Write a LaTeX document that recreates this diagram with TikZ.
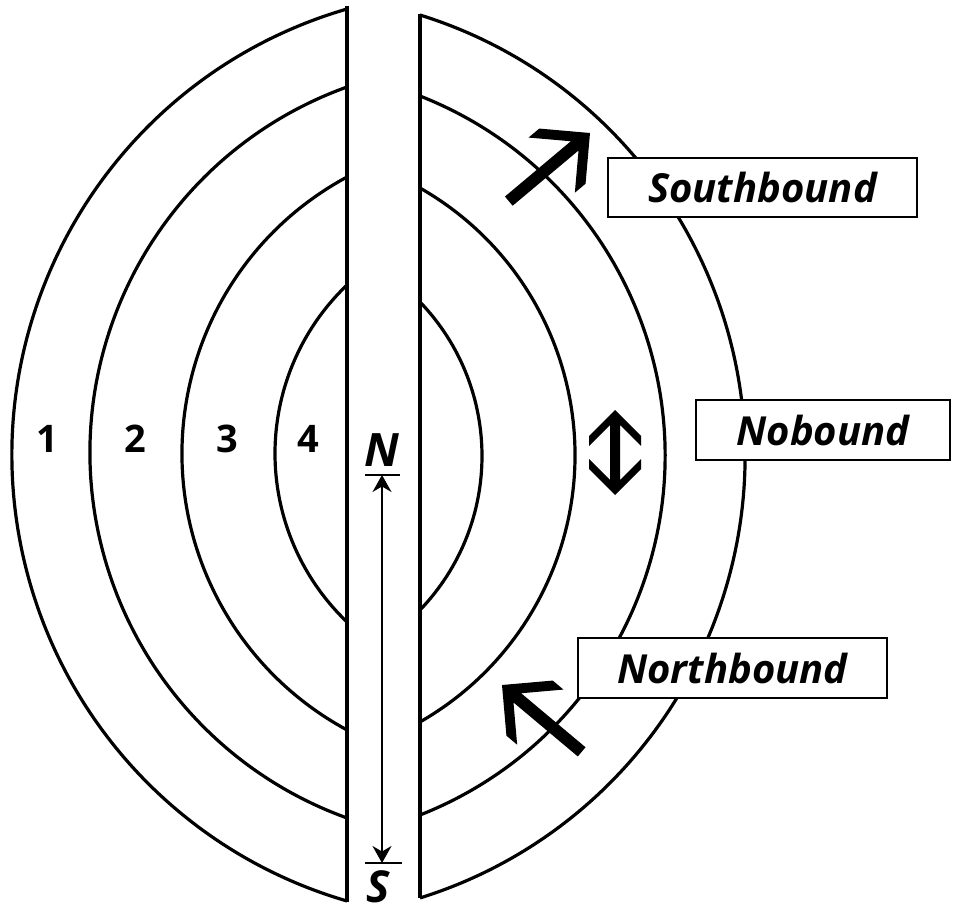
\documentclass[tikz,border=0pt]{standalone}
\usepackage{fontspec}
\newfontfamily\labfont{Open Sans}
\usetikzlibrary{arrows.meta}
% left-opening arc: xline, ytop, ybot, x of extreme point
\newcommand\arcL[4]{%
  \pgfmathsetmacro\hh{(#3-#2)/200}%
  \pgfmathsetmacro\dd{(#1-#4)/100}%
  \pgfmathsetmacro\RR{(\hh*\hh+\dd*\dd)/(2*\dd)}%
  \pgfmathsetmacro\th{asin(\hh/\RR)}%
  \pgfmathsetmacro\Rp{100*\RR}%
  \draw[ring] (#1,#2) arc[start angle=180+\th, end angle=180-\th, radius=\Rp];}
\newcommand\arcR[4]{%
  \pgfmathsetmacro\hh{(#3-#2)/200}%
  \pgfmathsetmacro\dd{(#4-#1)/100}%
  \pgfmathsetmacro\RR{(\hh*\hh+\dd*\dd)/(2*\dd)}%
  \pgfmathsetmacro\th{asin(\hh/\RR)}%
  \pgfmathsetmacro\Rp{100*\RR}%
  \draw[ring] (#1,#2) arc[start angle=-\th, end angle=\th, radius=\Rp];}
% bold chevron arrow: tip, rotation, length
\newcommand\fatarr[3]{%
  \fill[shift={(#1)}, rotate=#2] (0,0) -- (-36,36) -- (-50,36) -- (-20,6) -- (-#3,6)
    -- (-#3,-6) -- (-20,-6) -- (-50,-36) -- (-36,-36) -- cycle;}
\begin{document}
\begin{tikzpicture}[x=1pt,y=-1pt,
  ring/.style={line width=3.2pt},
  bar/.style={line width=3.2pt},
  tagbox/.style={draw, line width=1.8pt, fill=white, inner sep=0pt,
     font=\labfont\fontsize{40}{44}\selectfont\bfseries\itshape},
  zone/.style={font=\labfont\fontsize{38}{40}\selectfont\bfseries, inner sep=0pt},
  pole/.style={font=\labfont\fontsize{46}{48}\selectfont\bfseries\itshape, inner sep=0pt},
  poleline/.style={line width=1.8pt}]
\useasboundingbox (0,0) rectangle (954,915);
% left rings
\arcL{347}{9}{901}{12}
\arcL{347}{87}{818}{90}
\arcL{347}{177}{730}{182}
\arcL{347}{285}{622}{275}
% right rings
\arcR{420}{15}{898}{745}
\arcR{420}{96}{815}{665}
\arcR{420}{188}{722}{575}
\arcR{420}{302}{610}{482}
% central bars
\draw[bar] (347,6) -- (347,902);
\draw[bar] (420,14) -- (420,898);
% zone numbers
\node[zone] (z1) at (47,439) {1};
\node[zone] (z2) at (135,439) {2};
\node[zone] (z3) at (227,439) {3};
\node[zone] (z4) at (308,439) {4};
% N-S axis
\node[pole] (N) at (382,450) {N};
\node[pole, font=\labfont\fontsize{44}{46}\selectfont\bfseries\itshape] (S) at (378,887) {S};
\coordinate (ntip) at (382,475);
\coordinate (stip) at (382,863);
\draw[poleline] (365,475) -- (400,475);
\draw[poleline] (365,863) -- (402,863);
\draw[poleline, {Stealth[length=17pt,width=19pt]}-{Stealth[length=17pt,width=19pt]}] (ntip) -- (stip);
% labels
\node[tagbox, minimum width=309pt, minimum height=59pt] (sb) at (762.5,187.5) {Southbound};
\node[tagbox, minimum width=254pt, minimum height=60pt] (nb) at (823,430) {Nobound};
\node[tagbox, minimum width=309pt, minimum height=60pt] (nob) at (732.5,668) {Northbound};
% bold arrows
\fatarr{590,133}{40}{106}
\fatarr{502,685}{140}{104}
\fill (615,410) -- (589,436) -- (589,446) -- (610,425) -- (610,480) -- (589,459) -- (589,469)
  -- (615,495) -- (641,469) -- (641,459) -- (620,480) -- (620,425) -- (641,446) -- (641,436) -- cycle;
\end{tikzpicture}
\end{document}
